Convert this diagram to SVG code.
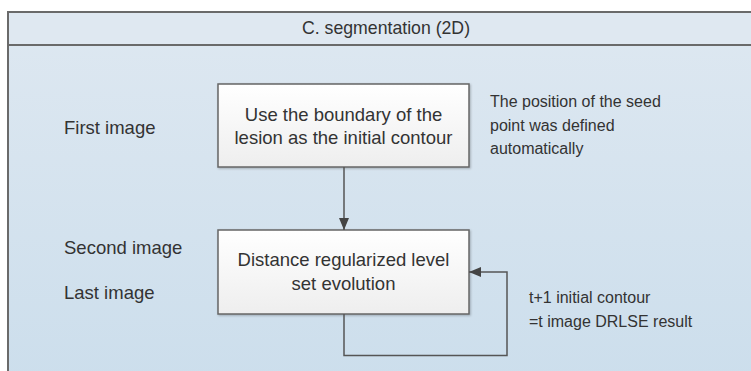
<svg xmlns="http://www.w3.org/2000/svg" width="751" height="371" viewBox="0 0 751 371">
  <defs>
    <linearGradient id="bodyFill" x1="0" y1="0" x2="0" y2="1">
      <stop offset="0" stop-color="#dee8f1"/>
      <stop offset="1" stop-color="#ccdeec"/>
    </linearGradient>
    <linearGradient id="boxFill" x1="0" y1="0" x2="0" y2="1">
      <stop offset="0" stop-color="#ffffff"/>
      <stop offset="1" stop-color="#eeeeee"/>
    </linearGradient>
    <filter id="shadow" x="-5%" y="-5%" width="115%" height="120%">
      <feDropShadow dx="1" dy="1" stdDeviation="1" flood-color="#000" flood-opacity="0.25"/>
    </filter>
    <marker id="arrow" viewBox="0 0 12 10" refX="12" refY="5" markerWidth="12" markerHeight="10" markerUnits="userSpaceOnUse" orient="auto">
      <path d="M0,0 L12,5 L0,10 Z" fill="#444"/>
    </marker>
  </defs>
  <style>
    text { font-family: "Liberation Sans", Arial, sans-serif; fill: #333; }
    .box { fill: url(#boxFill); stroke: #666; stroke-width: 1.5; filter: url(#shadow); }
    .big { font-size: 18.5px; }
    .note { font-size: 16px; }
    .conn { fill: none; stroke: #555; stroke-width: 1.5; }
  </style>

  <rect width="751" height="371" fill="#ffffff"/>

  <!-- outer frame with title band -->
  <g id="frame">
    <rect x="8" y="12" width="760" height="370" fill="url(#bodyFill)" stroke="#6a6a6a" stroke-width="2"/>
    <rect x="8" y="12" width="760" height="33" fill="#dfe8f1" stroke="#6a6a6a" stroke-width="2"/>
    <text x="386" y="34" text-anchor="middle" font-size="17.7px">C. segmentation (2D)</text>
  </g>

  <!-- row labels -->
  <g id="labels" class="big">
    <text x="64" y="134">First image</text>
    <text x="64" y="254">Second image</text>
    <text x="64" y="299">Last image</text>
  </g>

  <g id="node-initial-contour">
    <rect class="box" x="218" y="84" width="251" height="83"/>
    <text class="big" x="343.5" y="121" text-anchor="middle">Use the boundary of the</text>
    <text class="big" x="343.5" y="144" text-anchor="middle">lesion as the initial contour</text>
  </g>

  <g id="node-drlse">
    <rect class="box" x="218" y="230" width="251" height="84"/>
    <text class="big" x="343.5" y="266" text-anchor="middle">Distance regularized level</text>
    <text class="big" x="343.5" y="290" text-anchor="middle">set evolution</text>
  </g>

  <g id="note-seed" class="note">
    <text x="490" y="107">The position of the seed</text>
    <text x="490" y="131">point was defined</text>
    <text x="490" y="154">automatically</text>
  </g>

  <g id="note-iteration" class="note">
    <text x="529" y="303">t+1 initial contour</text>
    <text x="529" y="327">=t image DRLSE result</text>
  </g>

  <g id="connectors">
    <path class="conn" d="M344,167 L344,230" marker-end="url(#arrow)"/>
    <path class="conn" d="M344,314 L344,355.5 L507,355.5 L507,272 L469,272" marker-end="url(#arrow)"/>
  </g>
</svg>
